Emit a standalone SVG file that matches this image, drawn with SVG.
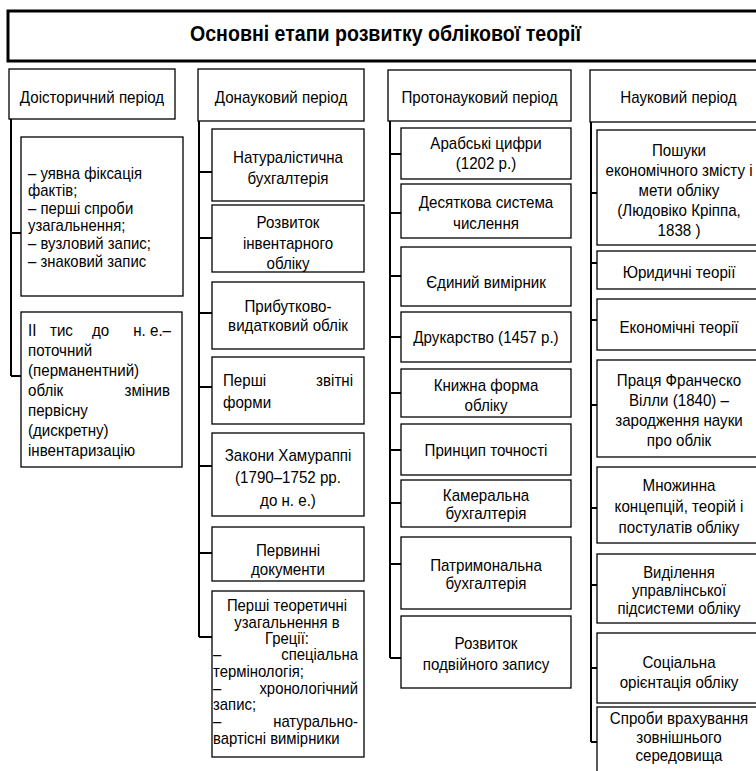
<svg xmlns="http://www.w3.org/2000/svg" width="756" height="771" viewBox="0 0 756 771">
<defs>
<style>
.b{fill:#fff;stroke:#000;stroke-width:1.3}
.tb{fill:#fff;stroke:#000;stroke-width:3}
.t{font-family:"Liberation Sans",Arial,sans-serif;font-size:17px;fill:#000}
.s{font-size:16px}
.c{text-anchor:middle}
.ttl{font-family:"Liberation Sans",Arial,sans-serif;font-size:22px;font-weight:bold;fill:#000;text-anchor:middle}
.cn{stroke:#000;stroke-width:2;fill:none}
</style>
<clipPath id="clipInv"><rect x="212" y="205" width="152" height="67"/></clipPath>
</defs>
<rect x="0" y="0" width="756" height="771" fill="#fff"/>

<g id="connectors" class="cn">
<path d="M11,119 V376 M11,233 H21 M11,376 H21"/>
<path d="M199,121 V637 M199,172 H212 M199,238 H212 M199,313 H212 M199,387 H212 M199,466 H212 M199,553 H212 M199,637 H212"/>
<path d="M390,121 V658 M390,154 H401 M390,213 H401 M390,276 H401 M390,337 H401 M390,393 H401 M390,450 H401 M390,503 H401 M390,564 H401 M390,658 H401"/>
<path d="M591,122 V742 M591,193 H597 M591,263 H597 M591,320 H597 M591,405 H597 M591,508 H597 M591,585 H597 M591,668 H597 M591,742 H597"/>
</g>

<g id="title">
<rect class="tb" x="8" y="11" width="760" height="50"/>
<text class="ttl" transform="translate(385.5,0) scale(.89,1)" x="0" y="41">Основні етапи розвитку облікової теорії</text>
</g>

<g id="h1">
<rect class="b" x="9" y="69" width="166" height="50"/>
<text class="t c" transform="translate(92,0) scale(.89,1)" x="0" y="103">Доісторичний період</text>
</g>
<g id="h2">
<rect class="b" x="198" y="69" width="166" height="52"/>
<text class="t c" transform="translate(281,0) scale(.89,1)" x="0" y="103">Донауковий період</text>
</g>
<g id="h3">
<rect class="b" x="388" y="70" width="183" height="51"/>
<text class="t c" transform="translate(479.5,0) scale(.89,1)" x="0" y="103">Протонауковий період</text>
</g>
<g id="h4">
<rect class="b" x="590" y="70" width="180" height="52"/>
<text class="t c" transform="translate(678.5,0) scale(.89,1)" x="0" y="103">Науковий період</text>
</g>

<g id="c1n1">
<rect class="b" x="21" y="137" width="162" height="159"/>
<text class="t s" transform="translate(28,0) scale(.93,1)"><tspan x="0" y="179">– уявна фіксація</tspan><tspan x="0" y="196.5">фактів;</tspan><tspan x="0" y="214">– перші спроби</tspan><tspan x="0" y="231.5">узагальнення;</tspan><tspan x="0" y="249">– вузловий запис;</tspan><tspan x="0" y="267">– знаковий запис</tspan></text>
</g>
<g id="c1n2">
<rect class="b" x="21" y="312" width="161" height="155"/>
<text class="t" transform="translate(28,0) scale(.89,1)"><tspan x="0" y="336">II</tspan><tspan x="24.7" y="336">тис</tspan><tspan x="71.9" y="336">до</tspan><tspan x="160.7" y="336" text-anchor="end">н. е.–</tspan><tspan x="0" y="356">поточний</tspan><tspan x="0" y="376">(перманентний)</tspan><tspan x="0" y="396">облік</tspan><tspan x="159.6" y="396" text-anchor="end">змінив</tspan><tspan x="0" y="416">первісну</tspan><tspan x="0" y="436">(дискретну)</tspan><tspan x="0" y="456">інвентаризацію</tspan></text>
</g>

<g id="c2n1">
<rect class="b" x="212" y="129" width="152" height="72"/>
<text class="t c" transform="translate(288,0) scale(.89,1)"><tspan x="0" y="163">Натуралістична</tspan><tspan x="0" y="184">бухгалтерія</tspan></text>
</g>
<g id="c2n2">
<rect class="b" x="212" y="205" width="152" height="67"/>
<g clip-path="url(#clipInv)">
<text class="t c" transform="translate(288,0) scale(.89,1)"><tspan x="0" y="228">Розвиток</tspan><tspan x="0" y="249">інвентарного</tspan><tspan x="0" y="269.5">обліку</tspan></text>
</g>
</g>
<g id="c2n3">
<rect class="b" x="212" y="282" width="152" height="67"/>
<text class="t c" transform="translate(288,0) scale(.89,1)"><tspan x="0" y="312">Прибутково-</tspan><tspan x="0" y="331">видатковий облік</tspan></text>
</g>
<g id="c2n4">
<rect class="b" x="212" y="357" width="152" height="67"/>
<text class="t" transform="translate(223,0) scale(.89,1)"><tspan x="0" y="386">Перші</tspan><tspan x="146.1" y="386" text-anchor="end">звітні</tspan><tspan x="0" y="408">форми</tspan></text>
</g>
<g id="c2n5">
<rect class="b" x="212" y="433" width="152" height="83"/>
<text class="t c" transform="translate(288,0) scale(.89,1)"><tspan x="0" y="461">Закони Хамураппі</tspan><tspan x="0" y="483">(1790–1752 рр.</tspan><tspan x="0" y="506">до н. е.)</tspan></text>
</g>
<g id="c2n6">
<rect class="b" x="212" y="527" width="152" height="54"/>
<text class="t c" transform="translate(288,0) scale(.89,1)"><tspan x="0" y="556">Первинні</tspan><tspan x="0" y="575">документи</tspan></text>
</g>
<g id="c2n7">
<rect class="b" x="212" y="591" width="152" height="166"/>
<text class="t s" transform="translate(213,0) scale(.93,1)"><tspan x="79.6" y="611" text-anchor="middle">Перші теоретичні</tspan><tspan x="79.6" y="628" text-anchor="middle">узагальнення в</tspan><tspan x="79.6" y="644" text-anchor="middle">Греції:</tspan><tspan x="0" y="660">–</tspan><tspan x="155.9" y="660" text-anchor="end">спеціальна</tspan><tspan x="0" y="677">термінологія;</tspan><tspan x="0" y="694">–</tspan><tspan x="155.9" y="694" text-anchor="end">хронологічний</tspan><tspan x="0" y="710">запис;</tspan><tspan x="0" y="727">–</tspan><tspan x="155.9" y="727" text-anchor="end">натурально-</tspan><tspan x="0" y="744">вартісні вимірники</tspan></text>
</g>

<g id="c3n1">
<rect class="b" x="401" y="128" width="170" height="51"/>
<text class="t c" transform="translate(486,0) scale(.89,1)"><tspan x="0" y="149">Арабські цифри</tspan><tspan x="0" y="169">(1202 р.)</tspan></text>
</g>
<g id="c3n2">
<rect class="b" x="401" y="184" width="170" height="54"/>
<text class="t c" transform="translate(486,0) scale(.89,1)"><tspan x="0" y="208">Десяткова система</tspan><tspan x="0" y="229">числення</tspan></text>
</g>
<g id="c3n3">
<rect class="b" x="401" y="247" width="170" height="59"/>
<text class="t c" transform="translate(486,0) scale(.89,1)" x="0" y="288">Єдиний вимірник</text>
</g>
<g id="c3n4">
<rect class="b" x="401" y="312" width="170" height="50"/>
<text class="t c" transform="translate(486,0) scale(.89,1)" x="0" y="343">Друкарство (1457 р.)</text>
</g>
<g id="c3n5">
<rect class="b" x="401" y="369" width="170" height="48"/>
<text class="t c" transform="translate(486,0) scale(.89,1)"><tspan x="0" y="391">Книжна форма</tspan><tspan x="0" y="411">обліку</tspan></text>
</g>
<g id="c3n6">
<rect class="b" x="401" y="424" width="170" height="51"/>
<text class="t c" transform="translate(486,0) scale(.89,1)" x="0" y="456">Принцип точності</text>
</g>
<g id="c3n7">
<rect class="b" x="401" y="480" width="170" height="47"/>
<text class="t c" transform="translate(486,0) scale(.89,1)"><tspan x="0" y="501">Камеральна</tspan><tspan x="0" y="519">бухгалтерія</tspan></text>
</g>
<g id="c3n8">
<rect class="b" x="401" y="537" width="170" height="72"/>
<text class="t c" transform="translate(486,0) scale(.89,1)"><tspan x="0" y="571">Патримональна</tspan><tspan x="0" y="589">бухгалтерія</tspan></text>
</g>
<g id="c3n9">
<rect class="b" x="401" y="616" width="170" height="72"/>
<text class="t c" transform="translate(486,0) scale(.89,1)"><tspan x="0" y="649">Розвиток</tspan><tspan x="0" y="670">подвійного запису</tspan></text>
</g>

<g id="c4n1">
<rect class="b" x="597" y="130" width="165" height="115"/>
<text class="t c" transform="translate(679,0) scale(.89,1)"><tspan x="0" y="156">Пошуки</tspan><tspan x="0" y="176">економічного змісту і</tspan><tspan x="0" y="196">мети обліку</tspan><tspan x="0" y="216">(Людовіко Кріппа,</tspan><tspan x="0" y="236">1838 )</tspan></text>
</g>
<g id="c4n2">
<rect class="b" x="597" y="251" width="165" height="38"/>
<text class="t c" transform="translate(679,0) scale(.89,1)" x="0" y="278">Юридичні теорії</text>
</g>
<g id="c4n3">
<rect class="b" x="597" y="299" width="165" height="51"/>
<text class="t c" transform="translate(679,0) scale(.89,1)" x="0" y="333">Економічні теорії</text>
</g>
<g id="c4n4">
<rect class="b" x="597" y="360" width="165" height="97"/>
<text class="t c" transform="translate(679,0) scale(.89,1)"><tspan x="0" y="386">Праця Франческо</tspan><tspan x="0" y="406">Вілли (1840) –</tspan><tspan x="0" y="426">зародження науки</tspan><tspan x="0" y="446">про облік</tspan></text>
</g>
<g id="c4n5">
<rect class="b" x="597" y="467" width="165" height="76"/>
<text class="t c" transform="translate(679,0) scale(.89,1)"><tspan x="0" y="491">Множинна</tspan><tspan x="0" y="512">концепцій, теорій і</tspan><tspan x="0" y="533">постулатів обліку</tspan></text>
</g>
<g id="c4n6">
<rect class="b" x="597" y="554" width="165" height="69"/>
<text class="t s c" transform="translate(679,0) scale(.93,1)"><tspan x="0" y="578">Виділення</tspan><tspan x="0" y="596">управлінської</tspan><tspan x="0" y="614">підсистеми обліку</tspan></text>
</g>
<g id="c4n7">
<rect class="b" x="597" y="633" width="165" height="70"/>
<text class="t c" transform="translate(679,0) scale(.89,1)"><tspan x="0" y="668">Соціальна</tspan><tspan x="0" y="688">орієнтація обліку</tspan></text>
</g>
<g id="c4n8">
<rect class="b" x="597" y="707" width="165" height="90"/>
<text class="t c" transform="translate(679,0) scale(.89,1)"><tspan x="0" y="724">Спроби врахування</tspan><tspan x="0" y="743">зовнішнього</tspan><tspan x="0" y="761">середовища</tspan></text>
</g>
</svg>
